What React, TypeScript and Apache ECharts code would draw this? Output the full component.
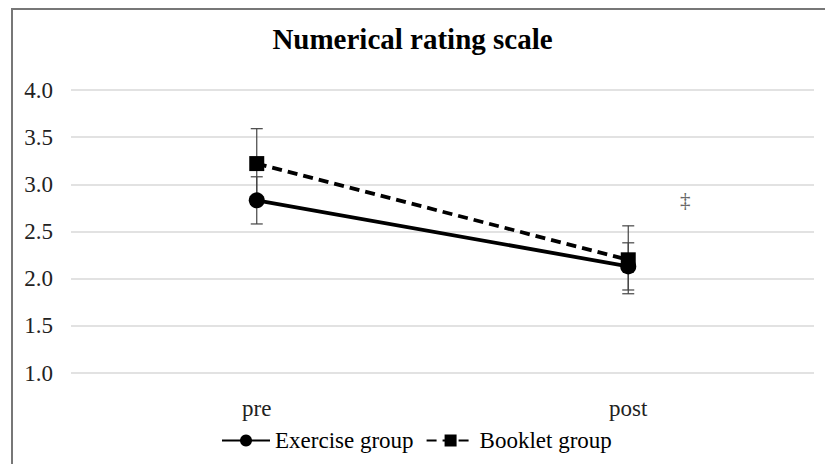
import React, { useEffect, useRef } from "react";
import * as echarts from "echarts";

const categories = ["pre", "post"];
const exerciseMeans = [2.83, 2.13];
const bookletMeans = [3.22, 2.2];
const exerciseErr = [0.25, 0.25];
const bookletErr = [0.37, 0.36];
const yTicks = { min: 1, max: 4, interval: 0.5 };

const FONT = "'Liberation Serif', 'Times New Roman', serif";

export default function App() {
  const ref = useRef<HTMLDivElement>(null);
  useEffect(() => {
    if (!ref.current) return;
    const chart = echarts.init(ref.current, undefined, { renderer: "svg" });
    const errData = (means: number[], errs: number[]) =>
      means.map((m, i) => [i, m - errs[i], m + errs[i]]);
    const errSeries = (name: string, means: number[], errs: number[]) => ({
      type: "custom",
      name: name + " err",
      z: 1,
      silent: true,
      data: errData(means, errs),
      renderItem: (params: any, api: any) => {
        const x = api.value(0);
        const lo = api.coord([x, api.value(1)]);
        const hi = api.coord([x, api.value(2)]);
        const w = 6;
        const style = { stroke: "#444", lineWidth: 1.2 };
        return {
          type: "group",
          children: [
            { type: "line", shape: { x1: lo[0], y1: lo[1], x2: hi[0], y2: hi[1] }, style },
            { type: "line", shape: { x1: lo[0] - w, y1: lo[1], x2: lo[0] + w, y2: lo[1] }, style },
            { type: "line", shape: { x1: hi[0] - w, y1: hi[1], x2: hi[0] + w, y2: hi[1] }, style },
          ],
        };
      },
    });
    chart.setOption({
      animation: false,
      backgroundColor: "#fff",
      title: {
        text: "Numerical rating scale",
        left: "center",
        top: 19,
        textStyle: { fontFamily: FONT, fontSize: 29, fontWeight: "bold", color: "#000" },
      },
      legend: {
        bottom: 7,
        left: 216,
        itemWidth: 48,
        itemHeight: 15,
        itemGap: 12,
        data: ["Exercise group", "Booklet group"],
        textStyle: { fontFamily: FONT, fontSize: 23, color: "#000" },
      },
      grid: { left: 71, right: 11, top: 90, bottom: 91 },
      xAxis: {
        type: "category",
        data: categories,
        boundaryGap: true,
        axisLine: { show: false },
        axisTick: { show: false },
        axisLabel: { fontFamily: FONT, fontSize: 23, color: "#222", margin: 24 },
      },
      yAxis: {
        type: "value",
        min: yTicks.min,
        max: yTicks.max,
        interval: yTicks.interval,
        axisLine: { show: false },
        axisTick: { show: false },
        axisLabel: {
          fontFamily: FONT,
          fontSize: 23,
          color: "#222",
          margin: 18,
          formatter: (v: number) => v.toFixed(1),
        },
        splitLine: { lineStyle: { color: "#d9d9d9", width: 1.5 } },
      },
      series: [
        errSeries("Exercise group", exerciseMeans, exerciseErr),
        errSeries("Booklet group", bookletMeans, bookletErr),
        {
          name: "Exercise group",
          type: "line",
          z: 3,
          data: exerciseMeans,
          symbol: "circle",
          symbolSize: 16,
          itemStyle: { color: "#000" },
          lineStyle: { color: "#000", width: 3.8 },
        },
        {
          name: "Booklet group",
          type: "line",
          z: 3,
          data: bookletMeans,
          symbol: "rect",
          symbolSize: 15,
          itemStyle: { color: "#000" },
          lineStyle: { color: "#000", width: 3.8, type: [10, 6] },
        },
      ],
      graphic: [
        {
          type: "rect",
          shape: { x: 12, y: 9, width: 830, height: 470 },
          style: { fill: "none", stroke: "#777", lineWidth: 2 },
          silent: true,
        },
        {
          type: "text",
          x: 680,
          y: 189,
          style: { text: "‡", fontFamily: FONT, fontSize: 21, fill: "#666" },
        },
      ],
    });
    return () => chart.dispose();
  }, []);
  return (
    <div
      ref={ref}
      style={{ position: "fixed", left: 0, top: 0, width: 825, height: 464 }}
    />
  );
}
